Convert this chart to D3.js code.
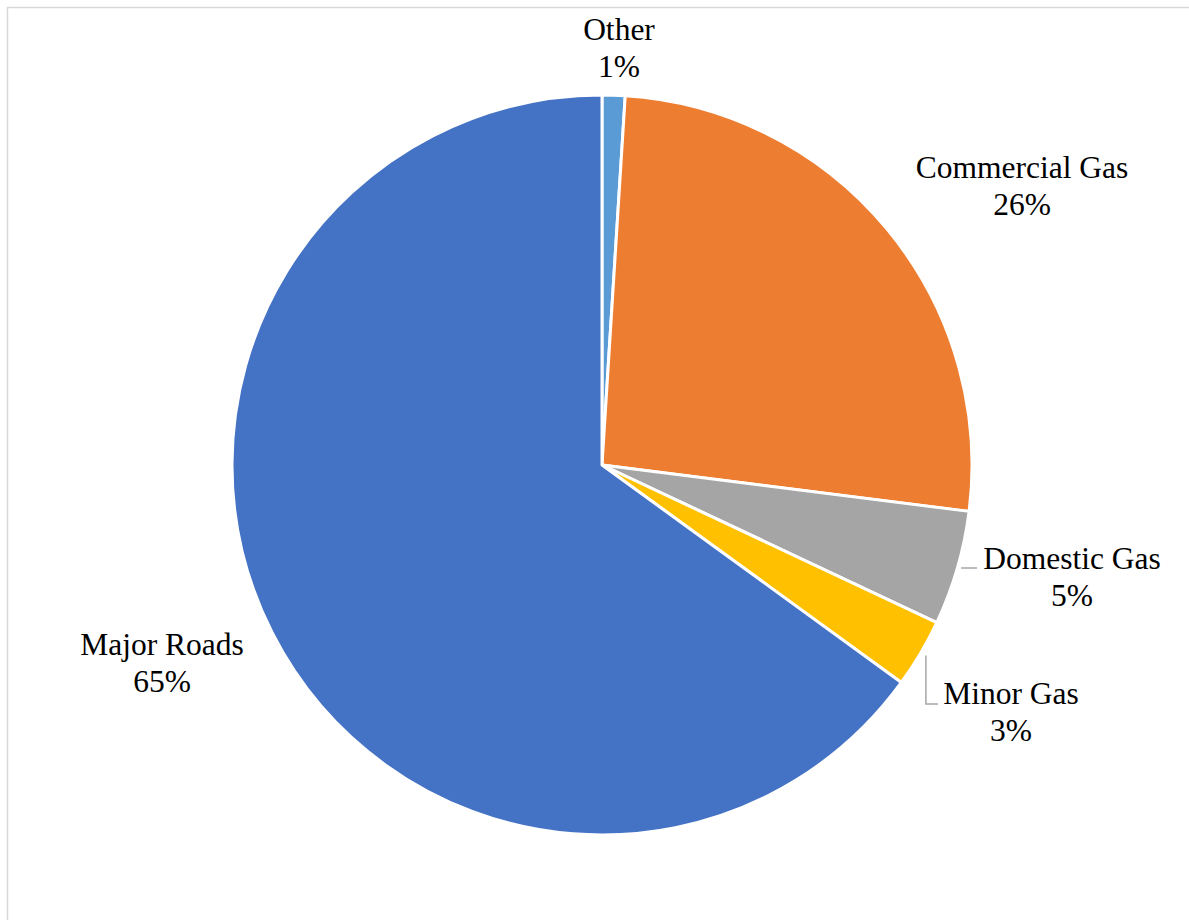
<!DOCTYPE html>
<html>
<head>
<meta charset="utf-8">
<script src="https://cdn.jsdelivr.net/npm/d3@7"></script>
<style>
  html, body { margin: 0; padding: 0; background: #fff; }
  svg { display: block; }
  svg text { font-family: "Times New Roman", "Liberation Serif", Tinos, "DejaVu Serif", serif; fill: #000; }
</style>
</head>
<body>
<svg id="chart" width="1189" height="920"></svg>
<script>
// Emission sources, clockwise from 12 o'clock
const categories = ["Other", "Commercial Gas", "Domestic Gas", "Minor Gas", "Major Roads"];
const shares = [1, 26, 5, 3, 65];
const colors = ["#5B9BD5", "#ED7D31", "#A5A5A5", "#FFC000", "#4472C4"];

// Label placement: [centre x, first baseline y], and whether a leader line is drawn
const labelPos = [[619, 40], [1022, 178], [1072, 569], [1011, 704], [162, 655]];
const leader = [null, null, "h", "v", null];

const W = 1189, H = 920;
const cx = 602, cy = 465, R = 370;
const fontSize = 31.5, lineGap = 37;

const svg = d3.select("#chart");

// chart area frame (top and left edges visible)
svg.append("rect")
  .attr("x", 7.5).attr("y", 7.5)
  .attr("width", W + 10).attr("height", H + 10)
  .attr("fill", "#fff")
  .attr("stroke", "#D9D9D9")
  .attr("stroke-width", 1.5);

const data = categories.map((c, i) => ({ name: c, value: shares[i], color: colors[i], i }));

const pie = d3.pie().sort(null).value(d => d.value);
const arcs = pie(data);
const arc = d3.arc().innerRadius(0).outerRadius(R);

const g = svg.append("g").attr("transform", `translate(${cx},${cy})`);

g.selectAll("path.slice")
  .data(arcs)
  .join("path")
  .attr("class", "slice")
  .attr("d", arc)
  .attr("fill", d => d.data.color)
  .attr("stroke", "#fff")
  .attr("stroke-width", 3)
  .attr("stroke-linejoin", "round");

// leader lines from just outside the slice edge to the label
const leaderArc = d3.arc().innerRadius(R + 4).outerRadius(R + 4);
arcs.forEach(a => {
  const kind = leader[a.data.i];
  if (!kind) return;
  const [sx, sy] = leaderArc.centroid(a);
  const x0 = sx + cx, y0 = sy + cy;
  const [lx, ly] = labelPos[a.data.i];
  let pts;
  if (kind === "h") {
    pts = [[x0, ly - 1], [lx - 95, ly - 1]];
  } else {
    pts = [[x0 + 2, y0], [x0 + 2, ly], [lx - 73, ly]];
  }
  svg.append("path")
    .attr("d", d3.line()(pts))
    .attr("fill", "none")
    .attr("stroke", "#A6A6A6")
    .attr("stroke-width", 1.5);
});

// data labels: category name and percentage
arcs.forEach(a => {
  const [lx, ly] = labelPos[a.data.i];
  const t = svg.append("text")
    .attr("text-anchor", "middle")
    .attr("font-family", "'Liberation Serif', 'Times New Roman', serif")
    .attr("font-size", fontSize);
  t.append("tspan").attr("x", lx).attr("y", ly).text(a.data.name);
  t.append("tspan").attr("x", lx).attr("y", ly + lineGap)
    .text(d3.format(".0%")(a.data.value / 100));
});
</script>
</body>
</html>
